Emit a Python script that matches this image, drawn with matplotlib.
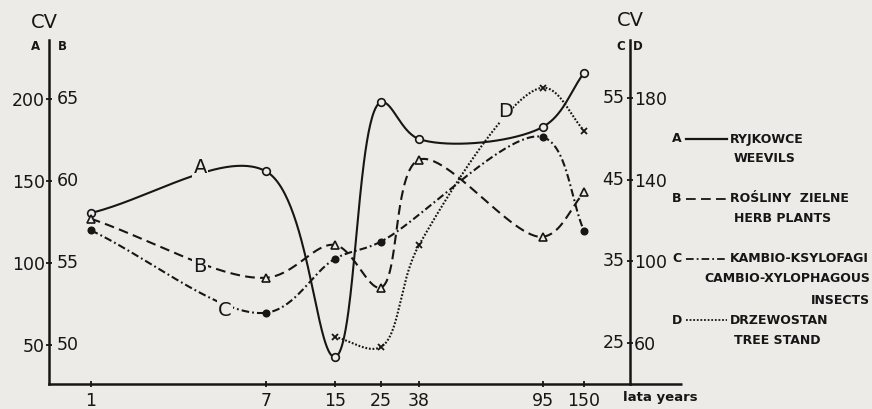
import matplotlib.pyplot as plt
from matplotlib.lines import Line2D
import numpy as np

plt.rcParams['font.family'] = ['DejaVu Sans']
plt.rcParams['lines.scale_dashes'] = False

paper = '#ecebe7'
ink = '#161616'

# stand age (years) and where each age sits along the drawn x axis
years = [1, 7, 15, 25, 38, 95, 150]
year_pos = [0.72, 3.73, 4.92, 5.71, 6.37, 8.50, 9.21]

# A - weevils (left scale A)
weevils = [130.5, 156, 42.7, 198, 175.6, 183, 216]
# B - herb plants (left scale B)
herbs = [57.7, 54.1, 56.1, 53.5, 61.3, 56.6, 59.3]
# C - cambio-xylophagous insects (right scale C)
cambio_years = [1, 7, 15, 25, 95, 150]
cambio = [38.8, 28.7, 35.3, 37.4, 50.2, 38.7]
# D - tree stand (right scale D)
stand_years = [15, 25, 38, 95, 150]
stand = [63, 58, 108, 185, 164]

ticks_a = [50, 100, 150, 200]
ticks_b = [50, 55, 60, 65]
ticks_c = [25, 35, 45, 55]
ticks_d = [60, 100, 140, 180]


def pos_of(yrs):
    return [year_pos[years.index(y)] for y in yrs]


def smooth(axis, xs, ys, n=60):
    # centripetal catmull-rom spline, worked out in screen space so that
    # the bends look the same whatever scale the series uses
    pts = axis.transData.transform(np.column_stack([xs, ys]))
    p = np.vstack([2 * pts[0] - pts[1], pts, 2 * pts[-1] - pts[-2]])
    out = []
    for i in range(len(pts) - 1):
        p0, p1, p2, p3 = p[i:i + 4]
        t0 = 0.0
        t1 = t0 + np.hypot(*(p1 - p0)) ** 0.5
        t2 = t1 + np.hypot(*(p2 - p1)) ** 0.5
        t3 = t2 + np.hypot(*(p3 - p2)) ** 0.5
        t = np.linspace(t1, t2, n)[:, None]
        a1 = (t1 - t) / (t1 - t0) * p0 + (t - t0) / (t1 - t0) * p1
        a2 = (t2 - t) / (t2 - t1) * p1 + (t - t1) / (t2 - t1) * p2
        a3 = (t3 - t) / (t3 - t2) * p2 + (t - t2) / (t3 - t2) * p3
        b1 = (t2 - t) / (t2 - t0) * a1 + (t - t0) / (t2 - t0) * a2
        b2 = (t3 - t) / (t3 - t1) * a2 + (t - t1) / (t3 - t1) * a3
        out.append((t2 - t) / (t2 - t1) * b1 + (t - t1) / (t2 - t1) * b2)
    xy = axis.transData.inverted().transform(np.vstack(out))
    return xy[:, 0], xy[:, 1]


fig = plt.figure(figsize=(8.72, 4.09), dpi=100, facecolor=paper)
W, H = 872, 409
ax = fig.add_axes([49 / W, (H - 384) / H, 581 / W, 344 / H])
ax.set_facecolor(paper)
ax_b = ax.twinx()
ax_c = ax.twinx()
ax_d = ax.twinx()

ax.set_xlim(0, 10)
ax.set_ylim(26.2, 236.0)
ax_b.set_ylim(47.62, 68.6)
ax_c.set_ylim(19.98, 62.1)
ax_d.set_ylim(39.9, 208.4)

lw = 1.5
styles = {
    'A': dict(ls='-'),
    'B': dict(ls=(0, (7, 3.8))),
    'C': dict(ls=(0, (5.5, 2.2, 1.3, 2.2))),
    'D': dict(ls=(0, (1.3, 1.3))),
}

# curves
for axis, xs, ys, key in [(ax, years, weevils, 'A'), (ax_b, years, herbs, 'B'),
                          (ax_c, cambio_years, cambio, 'C'), (ax_d, stand_years, stand, 'D')]:
    sx, sy = smooth(axis, pos_of(xs), ys)
    axis.plot(sx, sy, color=ink, lw=lw, **styles[key])

# point markers
ax.plot(year_pos, weevils, 'o', ms=5.5, mfc=paper, mec=ink, mew=1.2)
ax_b.plot(year_pos, herbs, '^', ms=5.5, mfc=paper, mec=ink, mew=1.2)
ax_c.plot(pos_of(cambio_years), cambio, 'o', ms=4.8, color=ink)
ax_d.plot(pos_of(stand_years), stand, 'x', ms=5, mec=ink, mew=1.3)

# letters sitting on the curves
lab = dict(fontsize=14, color=ink, ha='center', va='center',
           bbox=dict(boxstyle='square,pad=0.05', fc=paper, ec='none'))
ax.text(2.6, 158.5, 'A', **lab)
ax_b.text(2.6, 54.8, 'B', **lab)
ax_c.text(3.03, 29.0, 'C', **lab)
ax_d.text(7.85, 173.5, 'D', **lab)

# frame
for a in (ax, ax_b, ax_c, ax_d):
    for s in a.spines.values():
        s.set_visible(False)
    a.tick_params(axis='y', which='both', left=False, right=False,
                  labelleft=False, labelright=False)
ax.spines['left'].set_visible(True)
ax.spines['bottom'].set_visible(True)
ax_d.spines['right'].set_visible(True)
for s in (ax.spines['left'], ax.spines['bottom'], ax_d.spines['right']):
    s.set_linewidth(1.8)
    s.set_color(ink)
ax.plot([1, 1.09], [0, 0], transform=ax.transAxes, color=ink, lw=1.8,
        clip_on=False, solid_capstyle='butt')

ax.set_xticks(year_pos, [str(y) for y in years])
ax.tick_params(axis='x', direction='inout', length=5, width=1.3, color=ink,
               labelsize=12.5, pad=3, labelcolor=ink)

ax.set_yticks(ticks_a, [str(v) for v in ticks_a])
ax.tick_params(axis='y', left=True, labelleft=True, direction='inout', length=5,
               width=1.3, color=ink, labelsize=12.5, pad=0.5, labelcolor=ink)
for v in ticks_b:
    ax_b.annotate(str(v), xy=(0, v), xycoords=ax_b.get_yaxis_transform(),
                  xytext=(5.5, 0), textcoords='offset points', ha='left',
                  va='center', fontsize=12.5, color=ink)

ax_d.set_yticks(ticks_d, [str(v) for v in ticks_d])
ax_d.tick_params(axis='y', right=True, labelright=True, direction='inout', length=5,
                 width=1.3, color=ink, labelsize=12.5, pad=0.5, labelcolor=ink)
for v in ticks_c:
    ax_c.annotate(str(v), xy=(1, v), xycoords=ax_c.get_yaxis_transform(),
                  xytext=(-4, 0), textcoords='offset points', ha='right',
                  va='center', fontsize=12.5, color=ink)

# axis headings
def ftext(x, y, s, **kw):
    kw.setdefault('color', ink)
    fig.text(x / W, 1 - y / H, s, **kw)


ftext(44, 22, 'CV', fontsize=14, ha='center', va='center')
ftext(35, 47, 'A', fontsize=8.5, fontweight='bold', ha='center', va='center')
ftext(62, 47, 'B', fontsize=8.5, fontweight='bold', ha='center', va='center')
ftext(630, 20, 'CV', fontsize=14, ha='center', va='center')
ftext(621, 46, 'C', fontsize=8.5, fontweight='bold', ha='center', va='center')
ftext(638, 46, 'D', fontsize=8.5, fontweight='bold', ha='center', va='center')
ftext(623, 398, 'lata years', fontsize=9.5, fontweight='bold', ha='left', va='center')

# key
key = [
    ('A', 139, ['RYJKOWCE', 'WEEVILS']),
    ('B', 199, ['ROŚLINY  ZIELNE', 'HERB PLANTS']),
    ('C', 259, ['KAMBIO-KSYLOFAGI', 'CAMBIO-XYLOPHAGOUS', 'INSECTS']),
    ('D', 320, ['DRZEWOSTAN', 'TREE STAND']),
]
kt = dict(fontsize=9, fontweight='bold', va='center')
for letter, y, lines in key:
    ftext(677, y, letter, ha='center', **kt)
    fig.add_artist(Line2D([686 / W, 727 / W], [1 - y / H, 1 - y / H], color=ink,
                          lw=1.3 if letter != 'A' else 1.6,
                          transform=fig.transFigure, **styles[letter]))
    ftext(730, y, lines[0], ha='left', **kt)
    if letter == 'C':
        ftext(870, y + 20, lines[1], ha='right', **kt)
        ftext(870, y + 41, lines[2], ha='right', **kt)
    else:
        ftext(734, y + 20, lines[1], ha='left', **kt)

fig.savefig('out.png', dpi=100, facecolor=paper)
